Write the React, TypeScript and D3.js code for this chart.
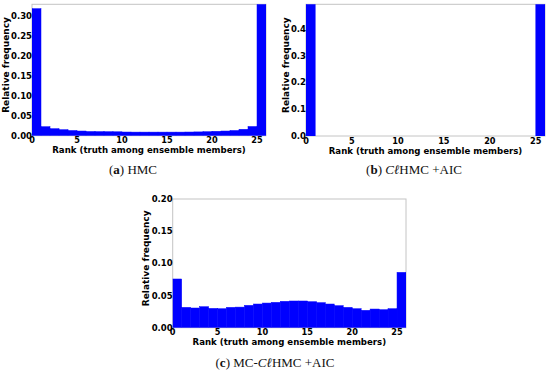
import * as d3 from "d3";

// rank 0..25, relative frequency per bin
const RANKS = d3.range(0, 26);
const HMC = [
  0.318, 0.0225, 0.0175, 0.015, 0.013, 0.0117, 0.0105, 0.0102, 0.01, 0.0098, 0.0092, 0.009, 0.009,
  0.009, 0.009, 0.009, 0.009, 0.0092, 0.0095, 0.01, 0.011, 0.0117, 0.013, 0.016, 0.023, 0.35,
];
const CLHMC_AIC = [
  0.5, 0, 0, 0, 0, 0, 0, 0, 0, 0, 0, 0, 0, 0, 0, 0, 0, 0, 0, 0, 0, 0, 0, 0, 0, 0.5,
];
const MC_CLHMC_AIC = [
  0.0757, 0.0316, 0.0306, 0.0326, 0.03, 0.0295, 0.0316, 0.032, 0.0347, 0.0368, 0.0383, 0.0394, 0.041,
  0.0415, 0.0415, 0.0404, 0.0389, 0.0368, 0.0342, 0.0316, 0.0295, 0.027, 0.029, 0.028, 0.0295, 0.086,
];
const X_TICKS = [0, 5, 10, 15, 20, 25];
const Y_TICKS_A = [0, 0.05, 0.1, 0.15, 0.2, 0.25, 0.3];
const Y_TICKS_B = [0, 0.1, 0.2, 0.3, 0.4];
const Y_TICKS_C = [0, 0.05, 0.1, 0.15, 0.2];

const FONT = "'DejaVu Sans', sans-serif";
const SERIF = "'Liberation Serif', 'DejaVu Serif', serif";

interface PanelProps {
  values: number[];
  yMax: number;
  yTicks: number[];
  fmt: string;
  left: number;
  right: number;
  top: number;
  bottom: number;
  labelGap: number;
}

function Panel({ values, yMax, yTicks, fmt, left, right, top, bottom, labelGap }: PanelProps) {
  const x = d3.scaleLinear().domain([0, 26]).range([left, right]);
  const y = d3.scaleLinear().domain([0, yMax]).range([bottom, top]);
  const f = d3.format(fmt);
  const clipId = `clip-${Math.round(left)}-${Math.round(top)}`;
  return (
    <g>
      <clipPath id={clipId}>
        <rect x={left} y={top} width={right - left} height={bottom - top} />
      </clipPath>
      <rect x={left} y={top} width={right - left} height={bottom - top} fill="#fff" stroke="#c4c4c4" strokeWidth={1} />
      <g clipPath={`url(#${clipId})`}>
        {values.map((v, i) => (
          <rect
            key={i}
            x={x(RANKS[i])}
            y={y(v)}
            width={x(RANKS[i] + 1) - x(RANKS[i])}
            height={Math.max(0, y(0) - y(v))}
            fill="#0000ff"
            stroke="#0000ff"
            strokeWidth={0.5}
          />
        ))}
      </g>
      {X_TICKS.map((t) => (
        <text key={t} x={x(t)} y={bottom + 7.5} textAnchor="middle" fontFamily={FONT} fontWeight="bold" fontSize={8.2}>
          {t}
        </text>
      ))}
      {yTicks.map((t) => (
        <text key={t} x={left} y={y(t) + 3} textAnchor="end" fontFamily={FONT} fontWeight="bold" fontSize={8.5}>
          {f(t)}
        </text>
      ))}
      <text
        x={(left + right) / 2}
        y={bottom + 17.5}
        textAnchor="middle"
        fontFamily={FONT}
        fontWeight="bold"
        fontSize={8.6}
      >
        Rank (truth among ensemble members)
      </text>
      <text
        transform={`translate(${left - labelGap},${(top + bottom) / 2 - 5}) rotate(-90)`}
        textAnchor="middle"
        fontFamily={FONT}
        fontWeight="bold"
        fontSize={9}
      >
        Relative frequency
      </text>
    </g>
  );
}

function Caption({ x, y, tag, children }: { x: number; y: number; tag: string; children: React.ReactNode }) {
  return (
    <text x={x} y={y} textAnchor="middle" fontFamily={SERIF} fontSize={13} fill="#111">
      (<tspan fontWeight="bold">{tag}</tspan>) {children}
    </text>
  );
}

export default function App() {
  return (
    <div style={{ position: "fixed", left: 0, top: 0, width: 550, height: 372, background: "#fff" }}>
      <svg width={550} height={372}>
        <Panel values={HMC} yMax={0.329} yTicks={Y_TICKS_A} fmt=".2f" left={32} right={266} top={4.3} bottom={135.7} labelGap={23} />
        <Caption x={133} y={174} tag="a">HMC</Caption>

        <Panel values={CLHMC_AIC} yMax={0.492} yTicks={Y_TICKS_B} fmt=".1f" left={306} right={545} top={4.3} bottom={136} labelGap={17} />
        <Caption x={414} y={174} tag="b">
          <tspan fontStyle="italic">C</tspan>
          <tspan fontStyle="italic">ℓ</tspan>HMC +AIC
        </Caption>

        <Panel values={MC_CLHMC_AIC} yMax={0.2} yTicks={Y_TICKS_C} fmt=".2f" left={172.7} right={406} top={199} bottom={327.7} labelGap={24} />
        <Caption x={275} y={367} tag="c">
          MC-<tspan fontStyle="italic">C</tspan>
          <tspan fontStyle="italic">ℓ</tspan>HMC +AIC
        </Caption>
      </svg>
    </div>
  );
}
